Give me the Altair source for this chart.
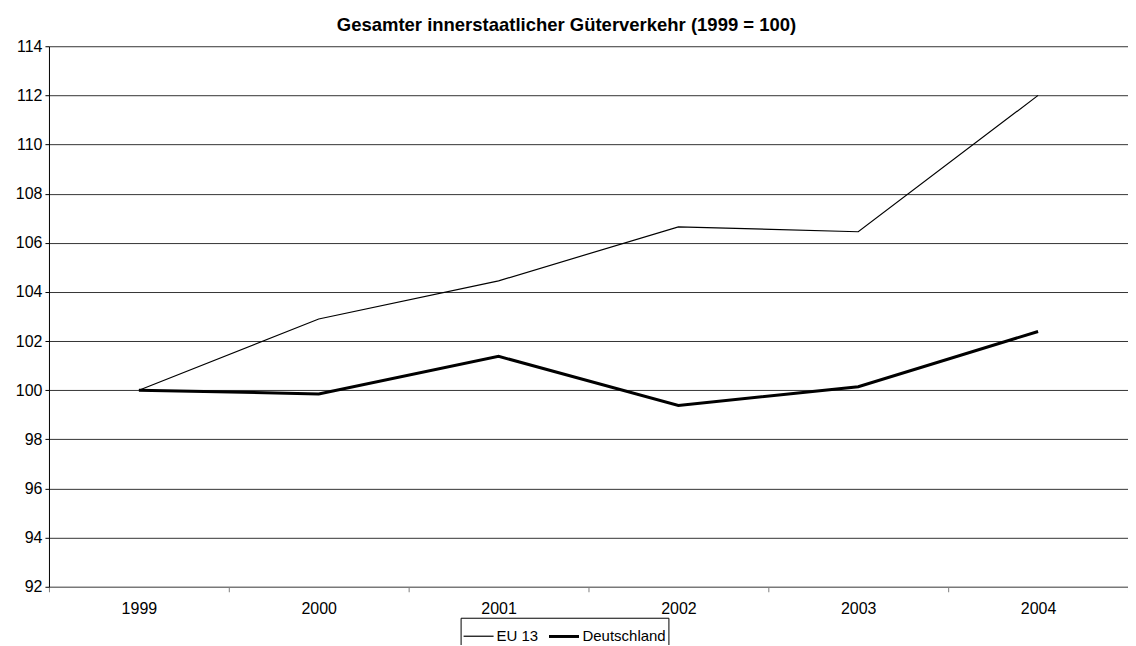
import altair as alt
import pandas as pd

years = ["1999", "2000", "2001", "2002", "2003", "2004"]
eu13 = [100.0, 102.9, 104.45, 106.65, 106.45, 112.0]
deutschland = [100.0, 99.85, 101.38, 99.38, 100.14, 102.39]
series_names = ["EU 13", "Deutschland"]
y_ticks = list(range(92, 115, 2))

rows = []
for name, vals in zip(series_names, [eu13, deutschland]):
    for yr, v in zip(years, vals):
        rows.append({"Jahr": yr, "Wert": v, "Reihe": name})
df = pd.DataFrame(rows)

FONT = "Liberation Sans"

chart = alt.Chart(df).mark_line(color="black").encode(
    x=alt.X("Jahr:O", bandPosition=0.5,
            scale=alt.Scale(type="band", domain=years, paddingInner=0, paddingOuter=0),
            axis=alt.Axis(title=None, labelAngle=0, tickBand="extent", domainColor="#808080",
                          tickColor="#808080", tickSize=5, labelPadding=9, labelFontSize=16,
                          labelColor="black", labelFont=FONT, grid=False)),
    y=alt.Y("Wert:Q",
            scale=alt.Scale(domain=[92, 114], nice=False, zero=False),
            axis=alt.Axis(title=None, values=y_ticks, tickSize=4, tickColor="black",
                          domainColor="black", gridColor="black", gridOpacity=0.8,
                          labelFontSize=16, labelColor="black", labelFont=FONT, labelPadding=3)),
    strokeWidth=alt.StrokeWidth("Reihe:N",
            scale=alt.Scale(domain=series_names, range=[1.2, 3]),
            legend=alt.Legend(title=None, orient="none", direction="horizontal",
                              legendX=412, legendY=572, symbolType="stroke", symbolSize=900,
                              symbolStrokeColor="black", labelFontSize=15, labelFont=FONT,
                              labelColor="black", strokeColor="black", padding=2,
                              columnPadding=4, labelOffset=2, symbolOffset=0)),
).properties(
    width=1080,
    height=541,
    title=alt.TitleParams("Gesamter innerstaatlicher Güterverkehr (1999 = 100)",
                          font=FONT, fontSize=18.5, fontWeight="bold", color="black",
                          anchor="middle", offset=4, dx=-22),
    autosize=alt.AutoSizeParams(type="none"),
    padding={"left": 41, "top": 38, "right": 0, "bottom": 58},
).configure_view(stroke=None)

chart.save("out.html", embed_options={"renderer": "svg", "actions": False})
